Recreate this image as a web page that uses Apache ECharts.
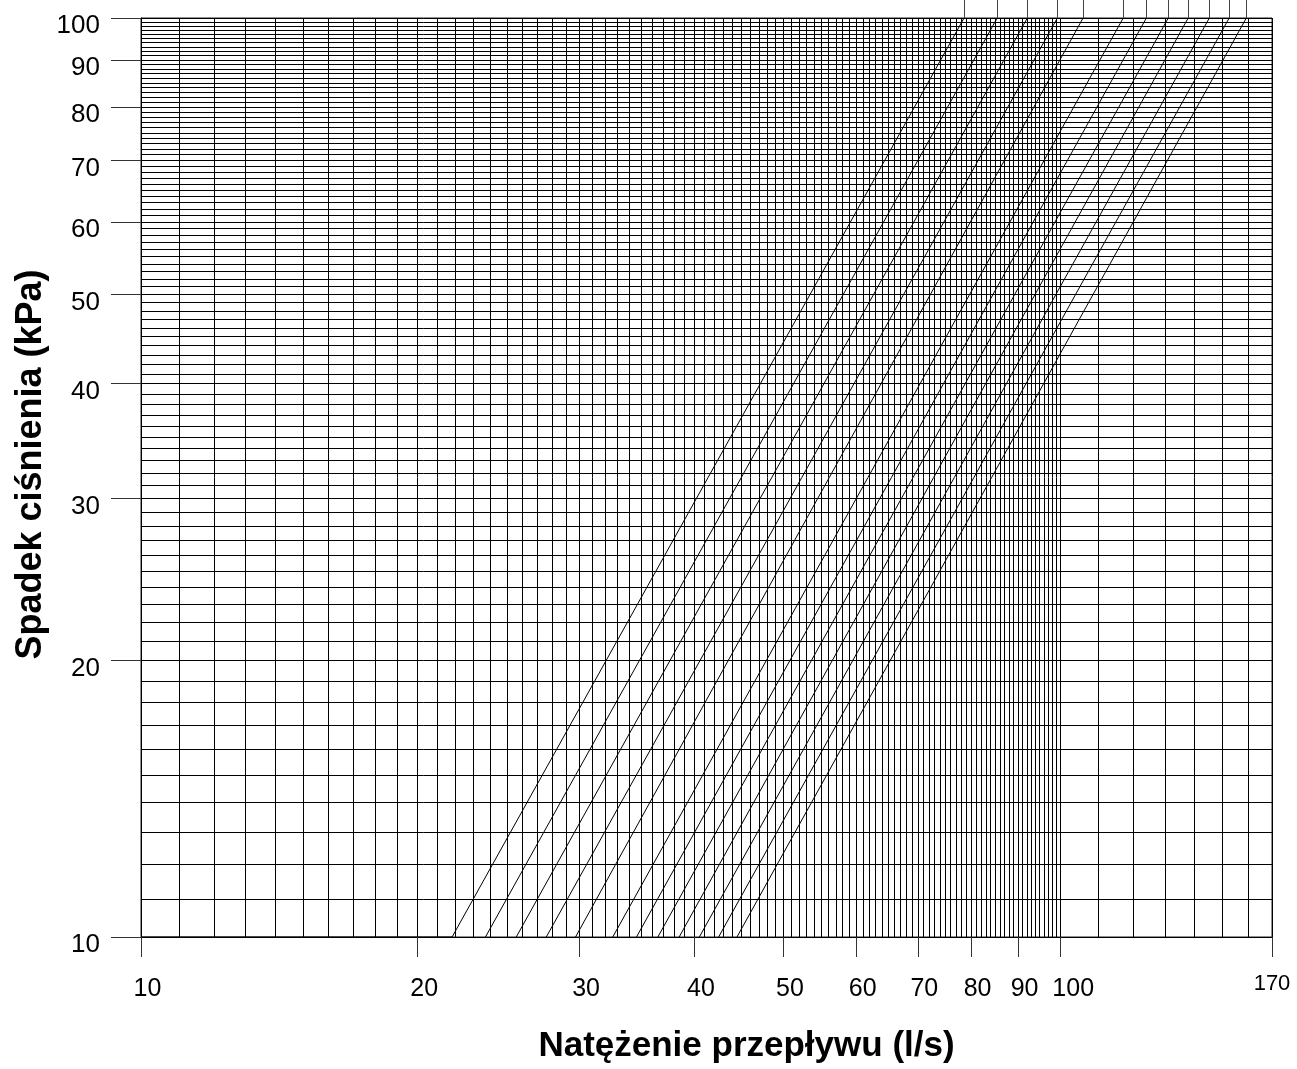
<!DOCTYPE html>
<html>
<head>
<meta charset="utf-8">
<script src="https://cdn.jsdelivr.net/npm/echarts@6/dist/echarts.min.js"></script>
<style>
  html, body { margin: 0; padding: 0; background: #fff; }
  #chart { width: 1297px; height: 1069px; }
</style>
</head>
<body>
<div id="chart"></div>
<script>
// siatka i opisy osi (wartosci, nie piksele)
const range = (a, b, step) => {
  const out = []
  for (let v = a; v <= b; v += step) out.push(v)
  return out
}
const gridX = range(10, 100, 1).concat(range(110, 170, 10))
const gridY = range(10, 100, 1)
const labelsX = [10, 20, 30, 40, 50, 60, 70, 80, 90, 100, 170]
const labelsY = [10, 20, 30, 40, 50, 60, 70, 80, 90, 100]

// przeplyw (l/s) dla kazdej krzywej przy 10 kPa i przy 100 kPa
const flowAt10 = [21.8, 23.7, 25.6, 27.6, 29.7, 32.6, 34.6, 36.5, 38.5, 40.5, 42.5, 44.5]
const flowAt100 = [78.6, 85.4, 92.1, 99.3, 105.9, 117.1, 124.1, 131.1, 137.8, 145.3, 152.7, 159.4]
const flowMin = 10
const flowMax = 170
const dpMin = 10
const dpMax = 100

const font = "'Liberation Sans', Arial, sans-serif"

const chart = echarts.init(document.getElementById('chart'))

const series = flowAt10.map((q, i) => {
  const data = [[q, dpMin], [flowAt100[i], dpMax]]
  // pierwsza krzywa biegnie od poczatku osi po 10 kPa
  if (i === 0) data.unshift([flowMin, dpMin])
  return {
    type: 'line',
    data,
    xAxisIndex: 0,
    yAxisIndex: 0,
    symbol: 'none',
    silent: true,
    lineStyle: { color: '#000', width: 1 }
  }
})

const option = {
  animation: false,
  backgroundColor: '#fff',
  grid: {
    left: 141,
    right: 25,
    top: 18,
    bottom: 131,
    show: true,
    borderColor: '#222',
    borderWidth: 1
  },
  xAxis: [
    {
      // linie siatki
      type: 'log',
      min: flowMin,
      max: flowMax,
      position: 'bottom',
      axisLine: { show: true, lineStyle: { color: '#000', width: 1 } },
      axisTick: { show: false, customValues: gridX },
      axisLabel: { show: false },
      splitLine: { show: true, lineStyle: { color: '#000', width: 1 } },
      name: 'Natężenie przepływu (l/s)',
      nameLocation: 'middle',
      nameGap: 92,
      nameTextStyle: {
        fontFamily: font,
        fontWeight: 'bold',
        fontSize: 35,
        color: '#000',
        padding: [0, 0, 0, 80]
      }
    },
    {
      // kreski i opisy
      type: 'log',
      min: flowMin,
      max: flowMax,
      position: 'bottom',
      axisLine: { show: false },
      axisTick: {
        show: true,
        customValues: labelsX,
        length: 20,
        lineStyle: { color: '#333', width: 1 }
      },
      axisLabel: {
        show: true,
        customValues: labelsX,
        margin: 40,
        fontFamily: font,
        fontSize: 25,
        color: '#000',
        formatter: (v) => {
          if (v === 100) return '{w|100}'
          if (v === 170) return '{s|170}'
          return '{n|' + v + '}'
        },
        rich: {
          n: { fontFamily: font, fontSize: 25, color: '#000', padding: [0, 0, 0, 13] },
          w: { fontFamily: font, fontSize: 25, color: '#000', padding: [0, 0, 0, 26] },
          s: { fontFamily: font, fontSize: 22, color: '#000', lineHeight: 14 }
        }
      },
      splitLine: { show: false }
    },
    {
      // kreski nad wykresem przy koncach krzywych
      type: 'log',
      min: flowMin,
      max: flowMax,
      position: 'top',
      axisLine: { show: false },
      axisTick: {
        show: true,
        customValues: flowAt100,
        length: 18,
        lineStyle: { color: '#444', width: 1 }
      },
      axisLabel: { show: false },
      splitLine: { show: false }
    }
  ],
  yAxis: [
    {
      type: 'log',
      min: dpMin,
      max: dpMax,
      position: 'left',
      axisLine: { show: true, lineStyle: { color: '#000', width: 1 } },
      axisTick: { show: false, customValues: gridY },
      axisLabel: { show: false },
      splitLine: { show: true, lineStyle: { color: '#000', width: 1 } },
      name: 'Spadek ciśnienia (kPa)',
      nameLocation: 'middle',
      nameGap: 92,
      nameRotate: 90,
      nameTextStyle: {
        fontFamily: font,
        fontWeight: 'bold',
        fontSize: 36,
        color: '#000',
        padding: [0, 0, 0, 26]
      }
    },
    {
      type: 'log',
      min: dpMin,
      max: dpMax,
      position: 'left',
      axisLine: { show: false },
      axisTick: {
        show: true,
        customValues: labelsY,
        length: 30,
        lineStyle: { color: '#333', width: 1 }
      },
      axisLabel: {
        show: true,
        customValues: labelsY,
        margin: 41,
        fontFamily: font,
        fontSize: 26,
        color: '#000',
        formatter: (v) => '{y|' + v + '}',
        rich: {
          y: { fontFamily: font, fontSize: 26, color: '#000', padding: [16, 0, 0, 0] }
        }
      },
      splitLine: { show: false }
    }
  ],
  series
}

chart.setOption(option)
</script>
</body>
</html>
